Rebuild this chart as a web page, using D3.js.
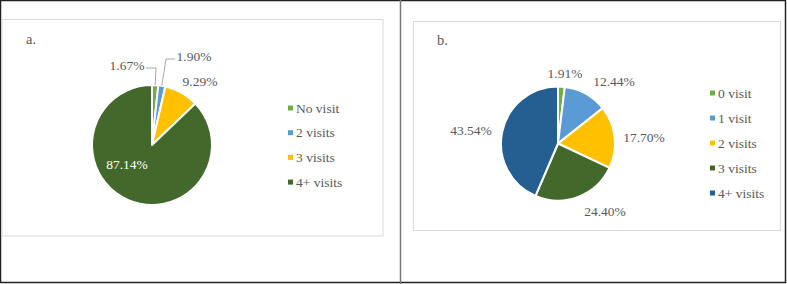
<!DOCTYPE html>
<html><head><meta charset="utf-8">
<script src="https://cdn.jsdelivr.net/npm/d3@7"></script>
<style>
html,body{margin:0;padding:0;background:#fff;}
svg{display:block;}
</style></head>
<body>
<svg id="chart" width="787" height="284"></svg>
<script>
// Panel a
const catsA = ["No visit", "2 visits", "3 visits", "4+ visits"];
const valsA = [1.67, 1.90, 9.29, 87.14];
const labelsA = ["1.67%", "1.90%", "9.29%", "87.14%"];
const colorsA = ["#70AD47", "#5B9BD5", "#FFC000", "#43682B"];
// Panel b
const catsB = ["0 visit", "1 visit", "2 visits", "3 visits", "4+ visits"];
const valsB = [1.91, 12.44, 17.70, 24.40, 43.54];
const labelsB = ["1.91%", "12.44%", "17.70%", "24.40%", "43.54%"];
const colorsB = ["#70AD47", "#5B9BD5", "#FFC000", "#43682B", "#255E91"];

const FONT = "'Liberation Serif', 'DejaVu Serif', 'Times New Roman', serif";
const svg = d3.select("#chart");

// outer frame
svg.append("rect").attr("x",0.5).attr("y",0.5).attr("width",785).attr("height",282)
  .attr("fill","none").attr("stroke","#222").attr("stroke-width",1.5);
svg.append("line").attr("x1",400.5).attr("x2",400.5).attr("y1",0).attr("y2",284)
  .attr("stroke","#777").attr("stroke-width",1.5);

// chart boxes
svg.append("rect").attr("x",2).attr("y",19.5).attr("width",381).attr("height",216.5)
  .attr("fill","#fff").attr("stroke","#d9d9d9").attr("stroke-width",1);
svg.append("rect").attr("x",413.5).attr("y",21.5).attr("width",367).attr("height",209)
  .attr("fill","#fff").attr("stroke","#d9d9d9").attr("stroke-width",1);

function txt(x,y,s,size,anchor,fill){
  return svg.append("text").attr("x",x).attr("y",y)
    .attr("text-anchor",anchor||"start").attr("dominant-baseline","central")
    .attr("font-family",FONT).attr("font-size",size).attr("fill",fill||"#595959")
    .text(s);
}

function drawPie(cfg){
  const g = svg.append("g").attr("transform",`translate(${cfg.cx},${cfg.cy})`);
  const pie = d3.pie().sort(null).value(d=>d)(cfg.vals);
  const arc = d3.arc().innerRadius(0).outerRadius(cfg.r);
  g.selectAll("path").data(pie).join("path")
    .attr("d",arc)
    .attr("fill",(d,i)=>cfg.colors[i])
    .attr("stroke","#fff").attr("stroke-width",2).attr("stroke-linejoin","round");
  pie.forEach((d,i)=>{
    const p = cfg.labelPos[i];
    txt(p[0],p[1],cfg.labels[i],13.5,"middle",cfg.labelFill && cfg.labelFill[i] ? cfg.labelFill[i] : "#595959");
  });
  (cfg.leaders||[]).forEach(L=>{
    const d = pie[L.i];
    const a = (d.startAngle+d.endAngle)/2;
    const ex = cfg.cx + Math.sin(a)*cfg.r, ey = cfg.cy - Math.cos(a)*cfg.r;
    const pts = L.pts.concat([[ex,ey]]);
    svg.append("path").attr("d", d3.line()(pts)).attr("fill","none")
      .attr("stroke","#a6a6a6").attr("stroke-width",1);
  });
  cfg.cats.forEach((c,i)=>{
    const y = cfg.legY + i*cfg.legStep;
    svg.append("rect").attr("x",cfg.legX).attr("y",y-2.5).attr("width",5).attr("height",5)
      .attr("fill",cfg.colors[i]);
    txt(cfg.legX+8,y,c,13.5);
  });
  txt(cfg.titleX,cfg.titleY,cfg.title,14.5);
}

drawPie({
  cx:152, cy:145, r:60, vals:valsA, colors:colorsA, labels:labelsA, cats:catsA,
  labelPos:[[127,65],[194,56],[200,81],[127,164]],
  labelFill:[null,null,null,"#ffffff"],
  leaders:[{i:0, pts:[[146,68],[156,68]]},{i:1, pts:[[175,59],[166,59]]}],
  legX:288, legY:108, legStep:24.7, title:"a.", titleX:26, titleY:39
});
drawPie({
  cx:558, cy:143.5, r:57, vals:valsB, colors:colorsB, labels:labelsB, cats:catsB,
  labelPos:[[565,73],[614,81],[644,137],[605,211],[471,130]],
  legX:710, legY:93, legStep:25, title:"b.", titleX:437, titleY:40
});
</script>
</body></html>
